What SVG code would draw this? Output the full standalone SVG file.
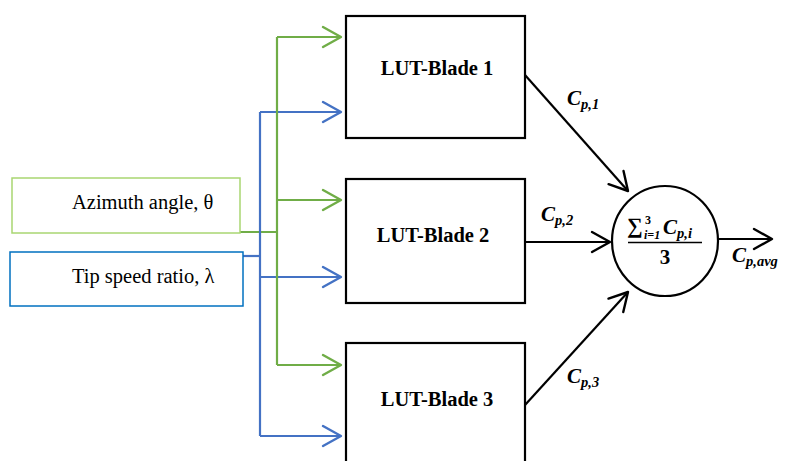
<svg xmlns="http://www.w3.org/2000/svg" width="785" height="461" viewBox="0 0 785 461">
<style>
.box{fill:#fff;stroke:#000;stroke-width:2.2}
.lbl{font-family:"Liberation Serif",serif;font-weight:bold;font-size:20.5px;fill:#000;text-anchor:middle}
.in{font-family:"Liberation Serif",serif;font-size:20.5px;fill:#000}
.m{font-family:"Liberation Serif",serif;font-weight:bold;font-style:italic;font-size:21px;fill:#000}
.s{font-size:14.5px}
.g{fill:none;stroke:#70AD47;stroke-width:2.2}
.b{fill:none;stroke:#4472C4;stroke-width:2.2}
.k{fill:none;stroke:#000;stroke-width:2.2}
</style>
<defs>
<marker id="ag" markerUnits="userSpaceOnUse" markerWidth="24" markerHeight="26" viewBox="-21 -13 24 26" refX="0" refY="0" orient="auto"><path d="M-18,-10 L0,0 L-18,10" fill="none" stroke="#70AD47" stroke-width="2.4" stroke-linejoin="round" stroke-linecap="round"/></marker>
<marker id="ab" markerUnits="userSpaceOnUse" markerWidth="24" markerHeight="26" viewBox="-21 -13 24 26" refX="0" refY="0" orient="auto"><path d="M-18,-10 L0,0 L-18,10" fill="none" stroke="#4472C4" stroke-width="2.4" stroke-linejoin="round" stroke-linecap="round"/></marker>
<marker id="ak" markerUnits="userSpaceOnUse" markerWidth="24" markerHeight="26" viewBox="-21 -13 24 26" refX="0" refY="0" orient="auto"><path d="M-18,-10 L0,0 L-18,10" fill="none" stroke="#000" stroke-width="2.4" stroke-linejoin="round" stroke-linecap="round"/></marker>
</defs>

<g id="connectors">
  <path class="g" d="M240,232 H277"/>
  <path class="b" d="M243,256 H260"/>
  <path class="b" d="M260,112 V436"/>
  <path class="b" d="M260,112 H341" marker-end="url(#ab)"/>
  <path class="b" d="M260,277 H341" marker-end="url(#ab)"/>
  <path class="b" d="M260,436 H341" marker-end="url(#ab)"/>
  <path class="g" d="M277,37 V365"/>
  <path class="g" d="M277,37 H341" marker-end="url(#ag)"/>
  <path class="g" d="M277,200 H341" marker-end="url(#ag)"/>
  <path class="g" d="M277,365 H341" marker-end="url(#ag)"/>
  <path class="k" d="M525,75 L628,191" marker-end="url(#ak)"/>
  <path class="k" d="M525,242 H610" marker-end="url(#ak)"/>
  <path class="k" d="M525,405 L628,292" marker-end="url(#ak)"/>
  <path class="k" d="M718,239 H772" marker-end="url(#ak)"/>
  <text class="m" x="567" y="105">C<tspan class="s" dy="4">p,1</tspan></text>
  <text class="m" x="541" y="221">C<tspan class="s" dy="4">p,2</tspan></text>
  <text class="m" x="567" y="383">C<tspan class="s" dy="4">p,3</tspan></text>
  <text class="m" x="732" y="262">C<tspan class="s" dy="4">p,avg</tspan></text>
</g>

<g id="azimuth">
  <rect x="12" y="178" width="228" height="55" fill="#fff" stroke="#A9D672" stroke-width="1.5"/>
  <text class="in" x="72" y="209">Azimuth angle, θ</text>
</g>
<g id="tsr">
  <rect x="10" y="252" width="233" height="54" fill="#fff" stroke="#0070C0" stroke-width="1.5"/>
  <text class="in" x="72" y="283">Tip speed ratio, λ</text>
</g>

<g id="blade1">
  <rect class="box" x="346" y="16" width="179" height="122"/>
  <text class="lbl" x="437" y="75">LUT-Blade 1</text>
</g>
<g id="blade2">
  <rect class="box" x="346" y="179" width="179" height="124"/>
  <text class="lbl" x="433" y="242">LUT-Blade 2</text>
</g>
<g id="blade3">
  <rect class="box" x="346" y="343" width="179" height="140"/>
  <text class="lbl" x="437" y="406">LUT-Blade 3</text>
</g>

<g id="sum">
  <ellipse cx="665" cy="241" rx="53" ry="55" fill="#fff" stroke="#000" stroke-width="2.2"/>
  <text class="m" x="627" y="233" style="font-style:normal;font-size:22px">∑</text>
  <text class="m" x="645" y="224" style="font-size:12px;font-style:normal">3</text>
  <text class="m" x="644" y="239" style="font-size:12px">i=1</text>
  <text class="m" x="663" y="234">C<tspan class="s" dy="4">p,i</tspan></text>
  <path d="M628,242.5 H702" stroke="#000" stroke-width="1.6"/>
  <text class="m" x="665" y="264" style="text-anchor:middle;font-style:normal">3</text>
</g>
</svg>
